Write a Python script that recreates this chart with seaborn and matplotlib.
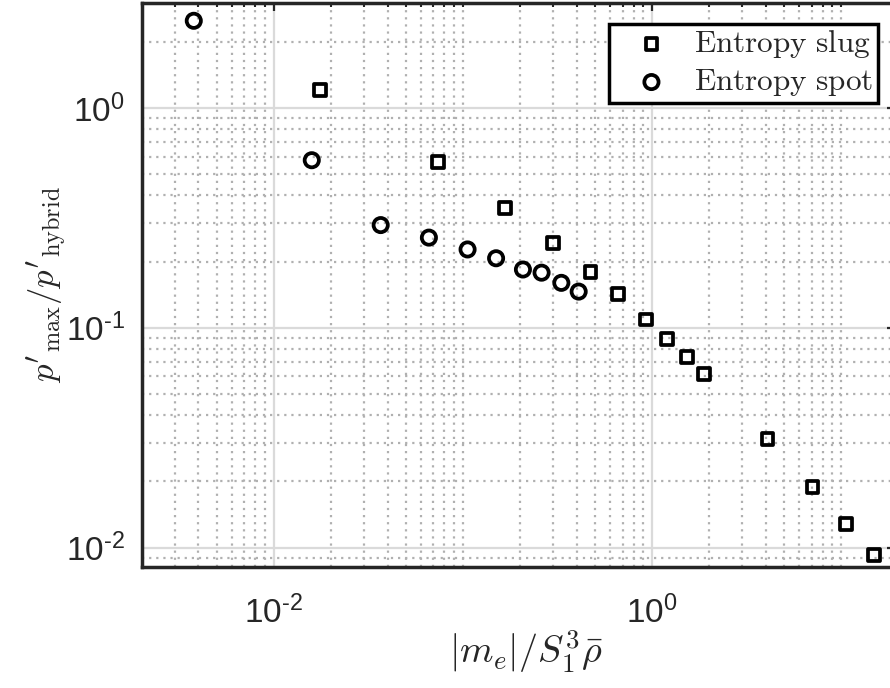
import numpy as np
import pandas as pd
import matplotlib
matplotlib.use("Agg")
import matplotlib.pyplot as plt
from matplotlib.ticker import LogLocator, FuncFormatter, NullFormatter
import seaborn as sns

# ---- data ----
slug_x = [0.0176, 0.0739, 0.167, 0.299, 0.473, 0.662, 0.930, 1.20, 1.53, 1.88, 4.09, 7.07, 10.6, 14.9]
slug_y = [1.21, 0.568, 0.351, 0.243, 0.179, 0.142, 0.109, 0.0889, 0.0734, 0.0614, 0.0313, 0.0188, 0.0128, 0.00924]
spot_x = [0.00378, 0.0159, 0.0368, 0.0662, 0.106, 0.150, 0.208, 0.261, 0.332, 0.410]
spot_y = [2.49, 0.578, 0.293, 0.257, 0.227, 0.207, 0.184, 0.178, 0.160, 0.146]
series_labels = [r"$\mathrm{Entropy\ slug}$", r"$\mathrm{Entropy\ spot}$"]
x_label = r"$|m_e|/S_1^3\bar{\rho}$"
y_label = r"$p'_{\max}/p'_{\mathrm{hybrid}}$"
x_limits = (2.0e-3, 19.3)
y_limits = (0.0082, 3.0)

sns.set_style("white")
plt.rcParams["font.family"] = ["Liberation Sans", "DejaVu Sans"]
plt.rcParams["mathtext.fontset"] = "cm"

W, H = 890, 688
fig = plt.figure(figsize=(W / 100, H / 100), dpi=100)
L, R, B, T = 141.5, 895.0, 566.5, 3.0
ax = fig.add_axes([L / W, (H - B) / H, (R - L) / W, (B - T) / H])

df_slug = pd.DataFrame({"x": slug_x, "y": slug_y})
df_spot = pd.DataFrame({"x": spot_x, "y": spot_y})

sns.scatterplot(data=df_slug, x="x", y="y", marker="s", s=72, facecolor="none",
                edgecolor="black", linewidth=2.7, label=series_labels[0], ax=ax, zorder=3)
sns.scatterplot(data=df_spot, x="x", y="y", marker="o", s=105, facecolor="none",
                edgecolor="black", linewidth=2.7, label=series_labels[1], ax=ax, zorder=3)

ax.set_xscale("log")
ax.set_yscale("log")
ax.set_xlim(*x_limits)
ax.set_ylim(*y_limits)


def fmt_func(v, p):
    e = int(round(np.log10(v)))
    s = ("\u2010%d" % (-e)) if e < 0 else ("%d" % e)
    return r"$\mathregular{10^{%s}}$" % s


ax.xaxis.set_major_locator(LogLocator(base=100.0))
ax.xaxis.set_minor_locator(LogLocator(base=10.0, subs=np.arange(1, 10), numticks=100))
ax.yaxis.set_major_locator(LogLocator(base=10.0, numticks=100))
ax.yaxis.set_minor_locator(LogLocator(base=10.0, subs=np.arange(2, 10), numticks=100))
fmt = FuncFormatter(fmt_func)
ax.xaxis.set_major_formatter(fmt)
ax.yaxis.set_major_formatter(fmt)
ax.xaxis.set_minor_formatter(NullFormatter())
ax.yaxis.set_minor_formatter(NullFormatter())

ax.set_axisbelow(True)
ax.grid(True, which="major", color="#dadada", lw=1.6, ls="-")
ax.grid(True, which="minor", color="#b0b0b0", lw=1.6, ls=(0, (1, 2.2)))

ax.tick_params(which="both", direction="in", top=True, right=True,
               colors="#262626", labelcolor="#262626")
ax.tick_params(which="major", length=5.5, width=1.6, labelsize=24)
ax.tick_params(which="minor", length=3, width=1.5)
ax.tick_params(axis="x", which="major", pad=21)
ax.tick_params(axis="y", which="major", pad=12)
for s in ax.spines.values():
    s.set_linewidth(2.5)
    s.set_color("#262626")

ax.set_xlabel(x_label, fontsize=27.5, color="#262626")
ax.set_ylabel(y_label, fontsize=25, color="#262626")
ax.xaxis.set_label_coords(0.51, -0.11)
ax.yaxis.set_label_coords(-0.097, 0.5)

leg = ax.legend(loc="upper right", bbox_to_anchor=(878 / W, 1 - 24 / H),
                bbox_transform=fig.transFigure, fontsize=22.5, frameon=True,
                fancybox=False, framealpha=1, edgecolor="black",
                borderpad=0.14, handlelength=2.45, handletextpad=0.15,
                labelspacing=0.22, borderaxespad=0)
leg.get_frame().set_linewidth(2.5)

fig.savefig("out.png", dpi=100)
